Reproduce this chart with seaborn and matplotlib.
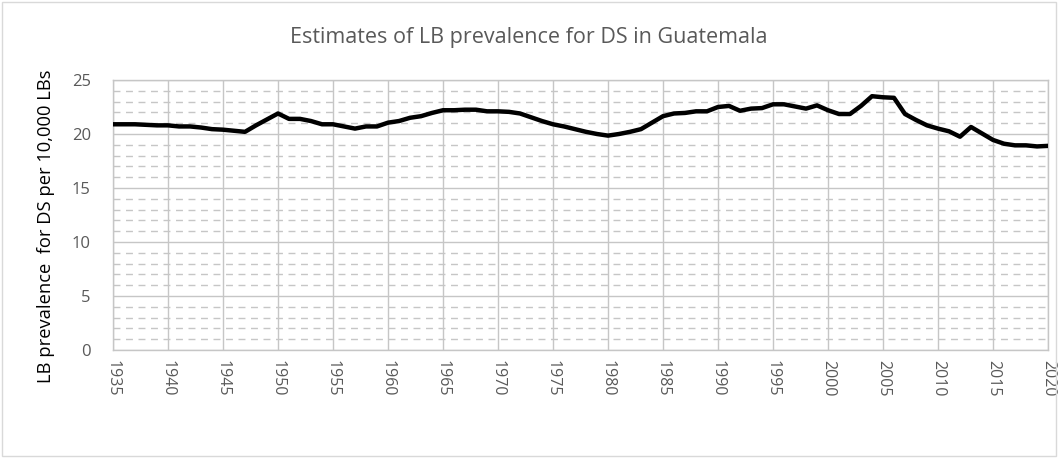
import matplotlib
matplotlib.use("Agg")
import matplotlib.pyplot as plt
from matplotlib.patches import Rectangle
from matplotlib.ticker import MultipleLocator
import seaborn as sns
import pandas as pd

years = list(range(1935, 2021))
prevalence = [
    20.9, 20.9, 20.9, 20.85, 20.8, 20.8, 20.7, 20.7, 20.6, 20.45,
    20.4, 20.3, 20.2, 20.8, 21.35, 21.9, 21.4, 21.4, 21.2, 20.9,
    20.9, 20.7, 20.5, 20.7, 20.7, 21.05, 21.2, 21.5, 21.65, 21.95,
    22.2, 22.2, 22.25, 22.25, 22.1, 22.1, 22.05, 21.9, 21.55, 21.2,
    20.9, 20.7, 20.45, 20.2, 20.0, 19.85, 20.0, 20.2, 20.45, 21.05,
    21.65, 21.9, 21.95, 22.1, 22.1, 22.5, 22.6, 22.15, 22.35, 22.4,
    22.75, 22.75, 22.55, 22.35, 22.65, 22.2, 21.85, 21.85, 22.6, 23.5,
    23.4, 23.35, 21.85, 21.3, 20.8, 20.5, 20.25, 19.75, 20.65, 20.05,
    19.45, 19.1, 18.95, 18.95, 18.85, 18.9,
]
x_ticks = list(range(1935, 2021, 5))

df = pd.DataFrame({"year": years, "prevalence": prevalence})

sns.set_style("white")
plt.rcParams["font.family"] = ["Open Sans", "DejaVu Sans"]

text_col = "#595959"
grid_col = "#c6c6c6"

fig = plt.figure(figsize=(10.58, 4.58), dpi=100)
ax = fig.add_axes([113 / 1058, 1 - 350 / 458, 935 / 1058, 270 / 458])

sns.lineplot(data=df, x="year", y="prevalence", ax=ax, color="black",
             linewidth=3.2, zorder=5)

ax.set_xlim(1935, 2020)
ax.set_ylim(0, 25)
ax.set_xticks(x_ticks)
ax.set_xticklabels([str(t) for t in x_ticks], rotation=-90, fontsize=11.5,
                   color=text_col)
ax.yaxis.set_major_locator(MultipleLocator(5))
ax.yaxis.set_minor_locator(MultipleLocator(1))
ax.tick_params(axis="y", labelsize=12, colors=text_col, length=0, pad=16)
ax.tick_params(axis="x", length=0, pad=7)
ax.tick_params(which="minor", length=0)

ax.grid(True, which="major", axis="both", color=grid_col, linewidth=1.0)
ax.grid(True, which="minor", axis="y", color=grid_col, linewidth=1.0,
        linestyle=(0, (5, 4)))
ax.set_axisbelow(True)
for s in ax.spines.values():
    s.set_color(grid_col)
    s.set_linewidth(1.0)

ax.set_xlabel("")
ax.set_ylabel("LB prevalence  for DS per 10,000 LBs", fontsize=13.2,
              color="black", labelpad=8)
ax.yaxis.set_label_coords(-0.062, 0.46)

fig.text(0.5, 1 - 38 / 458, "Estimates of LB prevalence for DS in Guatemala",
         ha="center", va="center", fontsize=15.5, color=text_col)

fig.patches.append(Rectangle((0.002, 0.004), 0.996, 0.992,
                             transform=fig.transFigure, fill=False,
                             edgecolor="#d9d9d9", linewidth=1.0))

fig.savefig("out.png", dpi=100, facecolor="white")
